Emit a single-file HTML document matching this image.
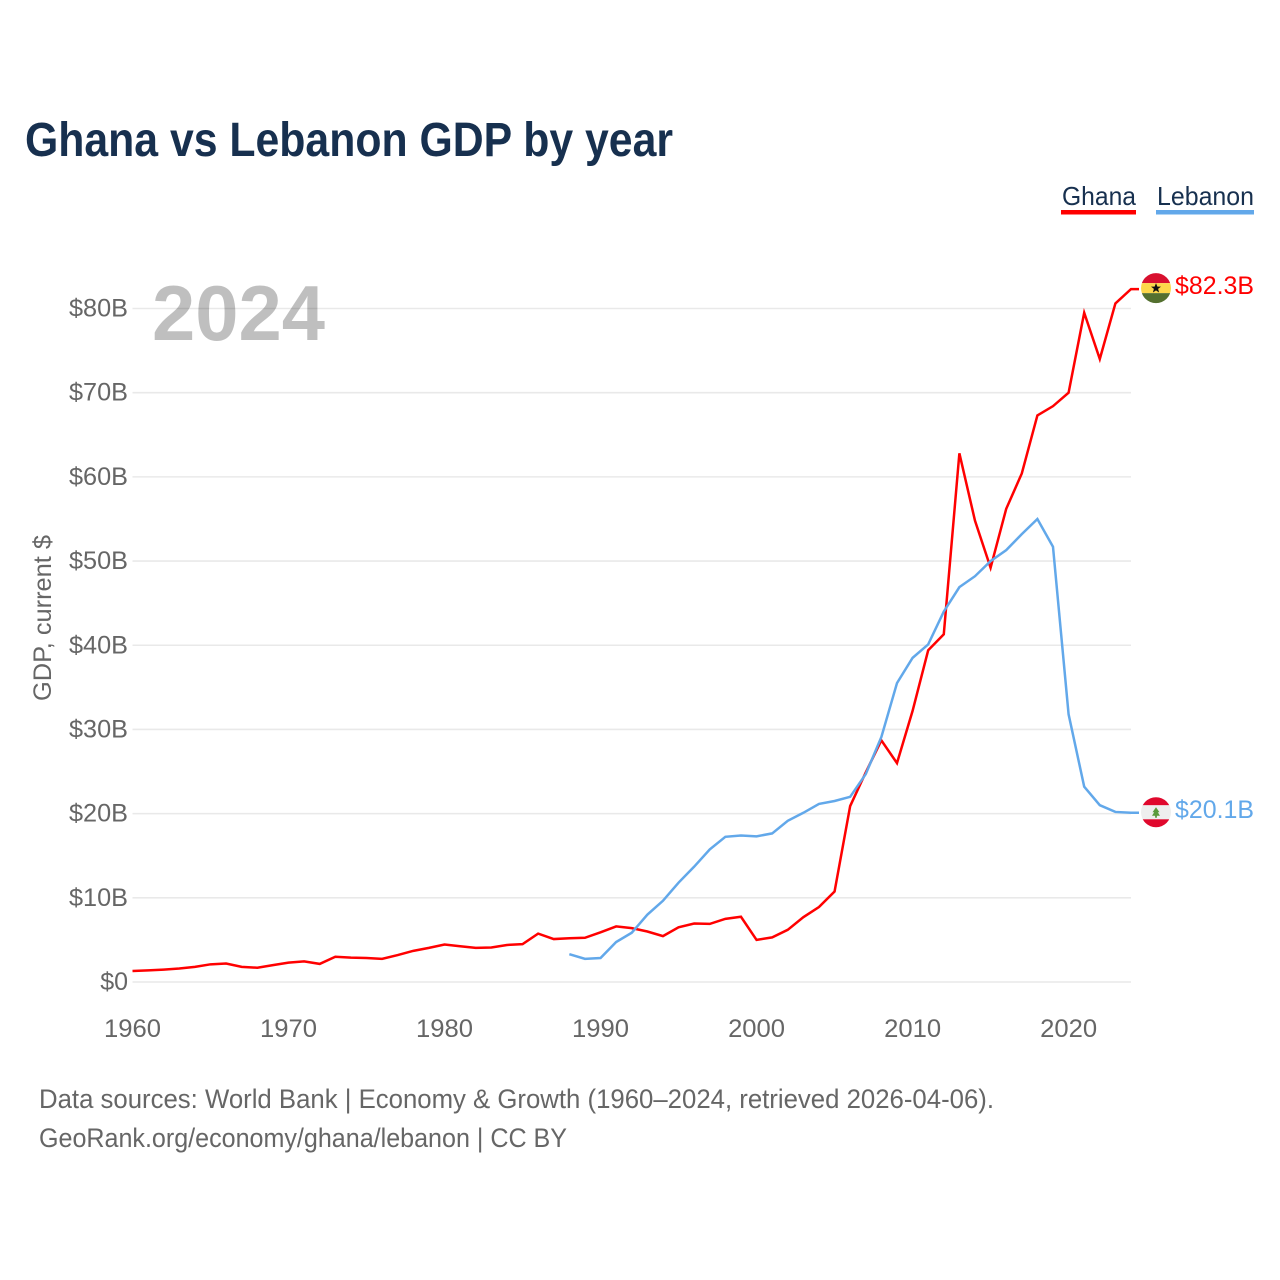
<!DOCTYPE html>
<html lang="en">
<head>
<meta charset="utf-8">
<title>Ghana vs Lebanon GDP by year</title>
<style>
html,body{margin:0;padding:0;background:#fff;width:1280px;height:1280px;overflow:hidden}
svg{display:block}
text{font-family:"Liberation Sans",Arial,sans-serif}
</style>
</head>
<body>
<svg id="chart" xmlns="http://www.w3.org/2000/svg" width="1280" height="1280" viewBox="0 0 1280 1280">
<defs>
<clipPath id="flag-clip-a"><circle cx="0" cy="0" r="15"/></clipPath>
</defs>
<rect x="0" y="0" width="1280" height="1280" fill="#fff"/>
<text x="25" y="156" font-size="48" font-weight="700" fill="#17304f" textLength="648" lengthAdjust="spacingAndGlyphs">Ghana vs Lebanon GDP by year</text>
<g id="grid"></g>
<g id="yticks"></g>
<g id="xticks"></g>
<text transform="translate(51 618) rotate(-90)" x="0" y="0" text-anchor="middle" font-size="25" fill="#666" textLength="166" lengthAdjust="spacingAndGlyphs">GDP, current $</text>
<g id="series"></g>
<text x="152" y="340" font-size="78" font-weight="700" fill="#000" fill-opacity="0.25" textLength="173" lengthAdjust="spacingAndGlyphs">2024</text>

<g>
<text x="1062" y="205" font-size="26" fill="#17304f" textLength="74" lengthAdjust="spacingAndGlyphs">Ghana</text>
<rect x="1061" y="210" width="75" height="4.5" fill="#ff0000"/>
</g>
<g>
<text x="1157" y="205" font-size="26" fill="#17304f" textLength="97" lengthAdjust="spacingAndGlyphs">Lebanon</text>
<rect x="1156" y="210" width="98" height="4.5" fill="#62a8ea"/>
</g>

<g id="flag-ghana">
<g clip-path="url(#flag-clip-a)">
<rect x="-16" y="-16" width="32" height="11" fill="#d8102f"/>
<rect x="-16" y="-5" width="32" height="10" fill="#fdd74a"/>
<rect x="-16" y="5" width="32" height="11" fill="#54702f"/>
<polygon points="0,-5 1.4,-1.5 5,-1.5 2.1,0.8 3.1,4.4 0,2.3 -3.1,4.4 -2.1,0.8 -5,-1.5 -1.4,-1.5" fill="#111"/>
</g>
</g>
<g id="flag-lebanon">
<g clip-path="url(#flag-clip-a)">
<rect x="-16" y="-16" width="32" height="9" fill="#e0082d"/>
<rect x="-16" y="-7" width="32" height="14" fill="#eeeeee"/>
<rect x="-16" y="7" width="32" height="9" fill="#e0082d"/>
<polygon points="0,-5 3.5,0 1.8,0 4,3.5 0.9,3.5 0.9,5.5 -0.9,5.5 -0.9,3.5 -4,3.5 -1.8,0 -3.5,0" fill="#5b9a3c"/>
</g>
</g>
<text id="label-ghana" x="1175" font-size="25" fill="#ff0000" textLength="79" lengthAdjust="spacingAndGlyphs"></text>
<text id="label-lebanon" x="1175" font-size="25" fill="#62a8ea" textLength="79" lengthAdjust="spacingAndGlyphs"></text>

<text x="39" y="1108" font-size="27" fill="#666" textLength="955" lengthAdjust="spacingAndGlyphs">Data sources: World Bank | Economy &amp; Growth (1960–2024, retrieved 2026-04-06).</text>
<text x="39" y="1147" font-size="27" fill="#666" textLength="528" lengthAdjust="spacingAndGlyphs">GeoRank.org/economy/ghana/lebanon | CC BY</text>
</svg>
<script>
const yearStart = 1960;
const yearEnd = 2024;
const lebanonStart = 1988;
const yTickValues = [0, 10, 20, 30, 40, 50, 60, 70, 80];
const xTickYears = [1960, 1970, 1980, 1990, 2000, 2010, 2020];
const ghanaValues = [1.3,1.38,1.47,1.6,1.8,2.1,2.2,1.8,1.7,2.0,2.3,2.45,2.15,3.0,2.9,2.85,2.75,3.2,3.7,4.05,4.45,4.25,4.05,4.1,4.4,4.5,5.75,5.1,5.2,5.25,5.9,6.6,6.4,6.0,5.45,6.5,6.95,6.9,7.5,7.75,5.0,5.3,6.2,7.7,8.9,10.75,20.9,24.9,28.7,26.0,32.2,39.4,41.3,62.8,54.8,49.2,56.2,60.4,67.3,68.4,70.0,79.5,74.0,80.6,82.3];
const lebanonValues = [3.3,2.75,2.85,4.75,5.85,8.0,9.65,11.8,13.7,15.75,17.25,17.4,17.3,17.65,19.15,20.1,21.15,21.5,22.0,24.7,29.1,35.5,38.5,40.1,44.0,46.9,48.2,50.0,51.3,53.2,55.0,51.7,31.8,23.2,21.0,20.2,20.1];

const NS = 'http://www.w3.org/2000/svg';
const plotLeft = 132.5, plotRight = 1131, plotZero = 982, plotTop80 = 308.5;
function xScale(year) {
  return plotLeft + (year - yearStart) * (plotRight - plotLeft) / (yearEnd - yearStart);
}
function yScale(value) {
  return plotZero - value * (plotZero - plotTop80) / 80;
}
function makeEl(tag) {
  return document.createElementNS(NS, tag);
}

const gridGroup = document.getElementById('grid');
const yTickGroup = document.getElementById('yticks');
const xTickGroup = document.getElementById('xticks');
yTickValues.forEach(function (v) {
  const line = makeEl('line');
  
  
  line.setAttribute('x1', plotLeft);
  line.setAttribute('x2', plotRight);
  line.setAttribute('y1', yScale(v));
  line.setAttribute('y2', yScale(v));
  line.setAttribute('stroke', '#e9e9e9');
  line.setAttribute('stroke-width', '1.6');
  gridGroup.appendChild(line);

  const label = makeEl('text');
  
  
  label.setAttribute('x', 128);
  label.setAttribute('y', yScale(v) + 8);
  label.setAttribute('text-anchor', 'end');
  label.setAttribute('font-size', '25');
  label.setAttribute('fill', '#666');
  label.textContent = '$' + (v === 0 ? '0' : v + 'B');
  if (v !== 0) {
    label.setAttribute('textLength', '59');
    label.setAttribute('lengthAdjust', 'spacingAndGlyphs');
  }
  yTickGroup.appendChild(label);
});
xTickYears.forEach(function (yr) {
  const label = makeEl('text');
  
  
  label.setAttribute('x', xScale(yr));
  label.setAttribute('y', 1037);
  label.setAttribute('text-anchor', 'middle');
  label.setAttribute('font-size', '25');
  label.setAttribute('fill', '#666');
  label.setAttribute('textLength', '57');
  label.setAttribute('lengthAdjust', 'spacingAndGlyphs');
  label.textContent = String(yr);
  xTickGroup.appendChild(label);
});

const seriesGroup = document.getElementById('series');
const stubX = xScale(yearEnd) + 8;

const ghanaPts = ghanaValues.map(function (v, i) {
  return xScale(yearStart + i).toFixed(2) + ',' + yScale(v).toFixed(2);
});
ghanaPts.push(stubX + ',' + yScale(ghanaValues[ghanaValues.length - 1]).toFixed(2));
const ghanaLine = makeEl('polyline');


ghanaLine.setAttribute('points', ghanaPts.join(' '));
ghanaLine.setAttribute('fill', 'none');
ghanaLine.setAttribute('stroke', '#ff0000');
ghanaLine.setAttribute('stroke-width', '2.5');
seriesGroup.appendChild(ghanaLine);

const lebanonPts = lebanonValues.map(function (v, i) {
  return xScale(lebanonStart + i).toFixed(2) + ',' + yScale(v).toFixed(2);
});
lebanonPts.push(stubX + ',' + yScale(lebanonValues[lebanonValues.length - 1]).toFixed(2));
const lebanonLine = makeEl('polyline');


lebanonLine.setAttribute('points', lebanonPts.join(' '));
lebanonLine.setAttribute('fill', 'none');
lebanonLine.setAttribute('stroke', '#62a8ea');
lebanonLine.setAttribute('stroke-width', '2.5');
seriesGroup.appendChild(lebanonLine);

const ghanaLast = ghanaValues[ghanaValues.length - 1];
const lebanonLast = lebanonValues[lebanonValues.length - 1];
document.getElementById('flag-ghana').setAttribute('transform', 'translate(1156 ' + (yScale(ghanaLast) - 1) + ')');
document.getElementById('flag-lebanon').setAttribute('transform', 'translate(1156 ' + (yScale(lebanonLast) - 0.5) + ')');
const labelGhana = document.getElementById('label-ghana');
labelGhana.setAttribute('y', yScale(ghanaLast) + 5);
labelGhana.textContent = '$' + ghanaLast.toFixed(1) + 'B';
const labelLebanon = document.getElementById('label-lebanon');
labelLebanon.setAttribute('y', yScale(lebanonLast) + 5);
labelLebanon.textContent = '$' + lebanonLast.toFixed(1) + 'B';
</script>
</body>
</html>
